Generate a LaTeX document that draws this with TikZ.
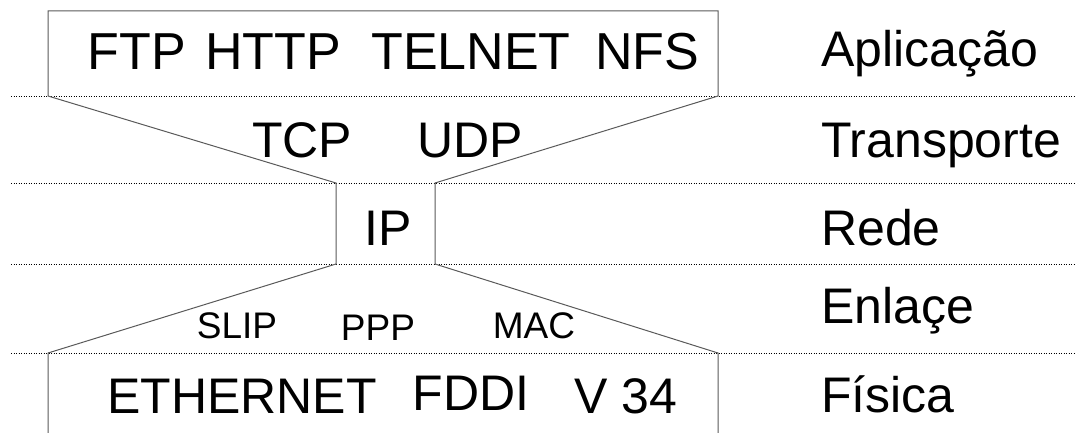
\documentclass[tikz,border=0pt]{standalone}
\usepackage{fontspec}
\setmainfont{Liberation Sans}
\tikzset{
  proto/.style = {font=\fontsize{50}{56}\selectfont, inner sep=0pt, anchor=base},
  tproto/.style = {proto, font=\fontsize{52}{58}\selectfont},
  sproto/.style = {font=\fontsize{37}{42}\selectfont, inner sep=0pt, anchor=base},
  layer/.style = {font=\fontsize{50}{56}\selectfont, inner sep=0pt, anchor=base west},
  sep/.style = {line width=.6pt, dash pattern=on .9pt off 1.6pt},
  outline/.style = {line width=1pt, draw=black!65, line join=miter}
}
\begin{document}
\begin{tikzpicture}[x = 1pt, y = -1pt]
  \useasboundingbox (0,0) rectangle (1075,433);
  % corners of the hourglass
  \coordinate (bl) at (48,433);    \coordinate (br) at (718,433);
  \coordinate (fl) at (48,353);    \coordinate (fr) at (718,353);
  \coordinate (il) at (336,264);   \coordinate (ir) at (435,264);
  \coordinate (tl) at (336,183);   \coordinate (tr) at (435,183);
  \coordinate (al) at (48,96);     \coordinate (ar) at (718,96);
  \coordinate (ul) at (48,11);     \coordinate (ur) at (718,11);
  % layer borders
  \foreach \yy in {96,183,264,353}
    \draw[sep] (11,\yy) -- (1075,\yy);
  \draw[outline] (bl) -- (fl) -- (il) -- (tl) -- (al) -- (ul) -- (ur) -- (ar) -- (tr) -- (ir) -- (fr) -- (br);
  % protocols
  \node[tproto] (ftp) at (137,70) {FTP};
  \node[tproto] (http) at (273,70) {HTTP};
  \node[tproto] (telnet) at (471,70) {TELNET};
  \node[tproto] (nfs) at (647,70) {NFS};
  \node[proto] (tcp) at (302,157) {TCP};
  \node[proto] (udp) at (470,157) {UDP};
  \node[proto] (ip) at (388,245) {IP};
  \node[sproto] (slip) at (237,338) {SLIP};
  \node[sproto] (ppp) at (378,340) {PPP};
  \node[sproto] (mac) at (534,338) {MAC};
  \node[proto] (eth) at (242,413) {ETHERNET};
  \node[proto] (fddi) at (471,410) {FDDI};
  \node[proto] (v34) at (626,413) {V 34};
  % layer names
  \node[layer] (apl) at (821,67) {Aplicação};
  \node[layer] (tra) at (821,157) {Transporte};
  \node[layer] (red) at (821,245) {Rede};
  \node[layer] (enl) at (821,323) {Enlaçe};
  \node[layer] (fis) at (821,412) {Física};
\end{tikzpicture}
\end{document}
